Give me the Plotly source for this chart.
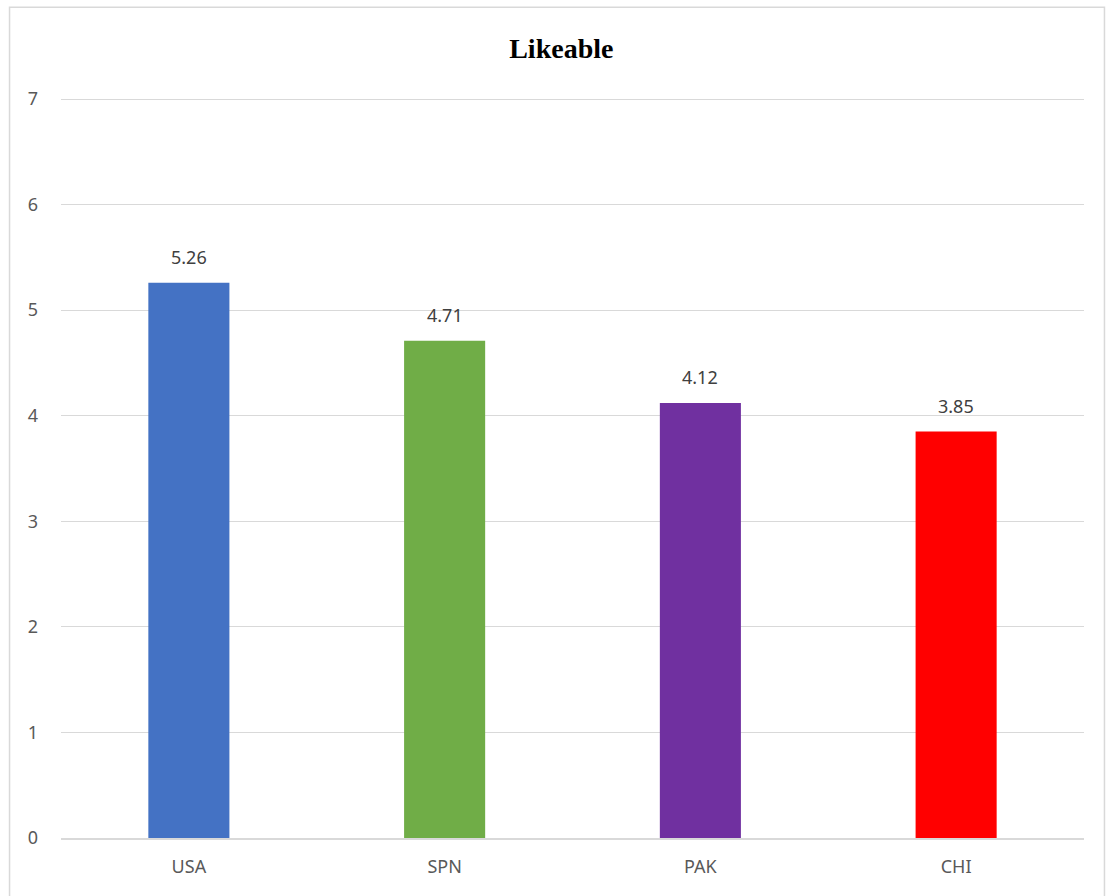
import plotly.graph_objects as go

categories = ["USA", "SPN", "PAK", "CHI"]
values = [5.26, 4.71, 4.12, 3.85]
colors = ["#4472C4", "#70AD47", "#7030A0", "#FF0000"]
y_ticks = [0, 1, 2, 3, 4, 5, 6, 7]
title_text = "Likeable"

fig = go.Figure()
fig.add_trace(go.Bar(
    x=categories, y=values, marker=dict(color=colors, line=dict(width=0)),
    width=0.317, hoverinfo="skip",
))

for c, v in zip(categories, values):
    fig.add_annotation(x=c, y=v, text=f"{v:.2f}", showarrow=False, yshift=26,
                       font=dict(family="Noto Sans, Lato, sans-serif", size=18, color="#404040"))

fig.add_shape(type="rect", xref="paper", yref="paper",
              x0=-0.0503, x1=1.0200, y0=-0.08, y1=1.1225,
              line=dict(color="#D9D9D9", width=1.5), layer="below")

fig.update_layout(
    width=1106, height=896,
    margin=dict(l=61, r=22, t=98, b=58),
    paper_bgcolor="white", plot_bgcolor="white",
    showlegend=False,
    title=dict(text=f"<b>{title_text}</b>", x=0.5075, xanchor="center", y=0.946, yanchor="middle",
               font=dict(family="Liberation Serif, Times New Roman, serif", size=28, color="black")),
    bargap=0.683,
)
fig.update_yaxes(range=[0, 7.01], tickvals=y_ticks, showgrid=True, gridcolor="#D9D9D9", gridwidth=1.3,
                 zeroline=False, showline=False, ticks="", ticklabelstandoff=22,
                 tickfont=dict(family="Noto Sans, Lato, sans-serif", size=18, color="#595959"))
fig.update_xaxes(showgrid=False, showline=True, linecolor="#D9D9D9", linewidth=1.5, ticks="",
                 ticklabelstandoff=12,
                 tickfont=dict(family="Noto Sans, Lato, sans-serif", size=18, color="#595959"))

fig.write_html("out.html")
